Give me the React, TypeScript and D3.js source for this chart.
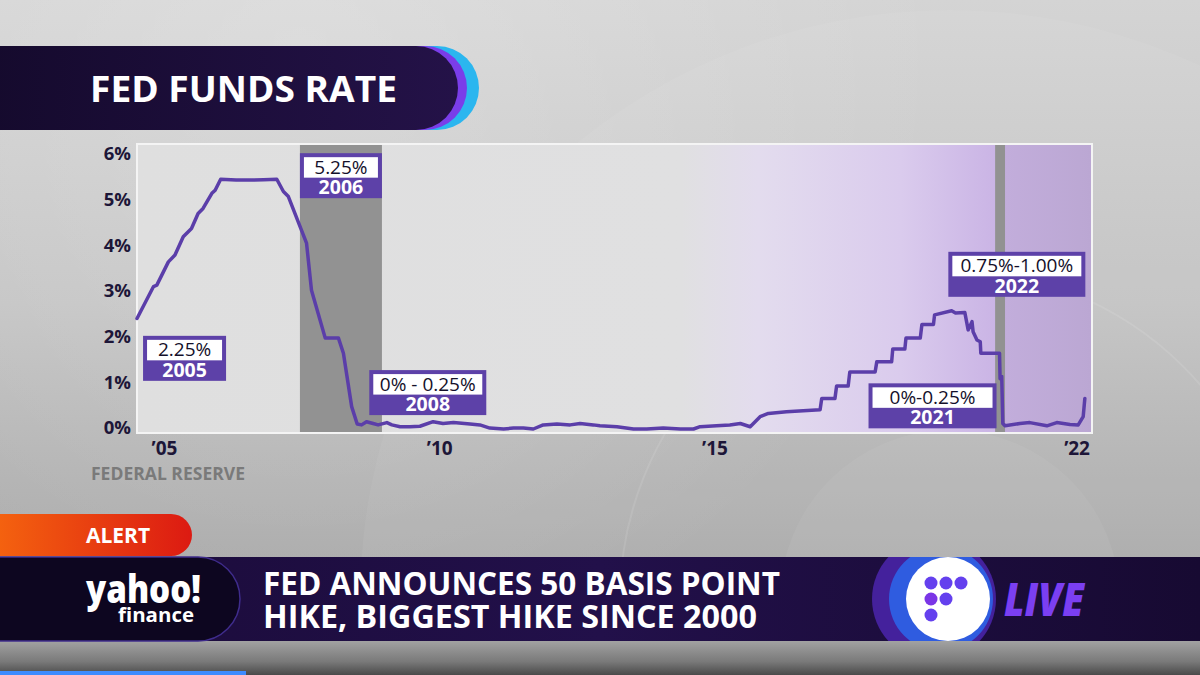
import React from "react";
import * as d3 from "d3";

// ---------------- DATA ----------------
const years = [
  2005.0, 2005.3, 2005.36, 2005.57, 2005.69, 2005.84, 2005.99, 2006.11, 2006.2, 2006.36, 2006.42,
  2006.52, 2006.8, 2007.05, 2007.3, 2007.54, 2007.66, 2007.75, 2008.08, 2008.17, 2008.42, 2008.66,
  2008.75, 2008.9, 2009.0, 2009.08, 2009.17, 2009.29, 2009.38, 2009.54, 2009.63, 2009.78, 2009.96,
  2010.14, 2010.38, 2010.56, 2010.75, 2011.05, 2011.23, 2011.41, 2011.66, 2011.84, 2012.02, 2012.2,
  2012.38, 2012.63, 2012.87, 2013.05, 2013.29, 2013.41, 2013.72, 2014.02, 2014.26, 2014.56, 2014.87,
  2015.11, 2015.23, 2015.53, 2015.77, 2015.96, 2016.14, 2016.32, 2016.47, 2016.8, 2017.41, 2017.44,
  2017.68, 2017.71, 2017.92, 2017.95, 2018.41, 2018.44, 2018.71, 2018.73, 2018.95, 2018.97, 2019.23,
  2019.26, 2019.47, 2019.49, 2019.8, 2019.87, 2020.04, 2020.1, 2020.17, 2020.19, 2020.26, 2020.32,
  2020.33, 2020.67, 2020.68, 2020.71, 2020.73, 2020.77, 2021.04, 2021.22, 2021.53, 2021.71, 2021.95,
  2022.1, 2022.19, 2022.22,
];
const rates = [
  2.42, 3.12, 3.15, 3.66, 3.81, 4.21, 4.39, 4.72, 4.83, 5.16, 5.23,
  5.47, 5.45, 5.45, 5.46, 5.47, 5.2, 5.09, 4.07, 3.04, 1.99, 1.99,
  1.66, 0.49, 0.11, 0.09, 0.16, 0.12, 0.09, 0.14, 0.09, 0.05, 0.05,
  0.06, 0.16, 0.12, 0.14, 0.11, 0.09, 0.02, 0.0, 0.02, 0.02, 0.0,
  0.09, 0.11, 0.09, 0.12, 0.09, 0.07, 0.05, 0.0, 0.0, 0.02, 0.0,
  0.0, 0.05, 0.07, 0.09, 0.12, 0.05, 0.27, 0.34, 0.38, 0.42, 0.67,
  0.67, 0.94, 0.94, 1.25, 1.25, 1.47, 1.47, 1.75, 1.75, 1.99, 1.99,
  2.29, 2.29, 2.5, 2.59, 2.54, 2.55, 2.17, 2.35, 2.13, 1.95, 1.91,
  1.66, 1.66, 1.1, 1.15, 0.12, 0.07, 0.12, 0.14, 0.07, 0.14, 0.1,
  0.09, 0.27, 0.67,
];
const yTickValues = [0, 1, 2, 3, 4, 5, 6];
const xTickYears = [2005, 2010, 2015, 2022];
const xTickLabels = ["\u201905", "\u201910", "\u201915", "\u201922"];
const recessionStarts = [2007.96, 2020.59];
const recessionEnds = [2009.45, 2020.77];
const calloutRates = ["2.25%", "5.25%", "0% - 0.25%", "0%-0.25%", "0.75%-1.00%"];
const calloutYears = ["2005", "2006", "2008", "2021", "2022"];

// ---------------- LAYOUT ----------------
const W = 1200;
const H = 675;
const FONT = "'Open Sans', 'Noto Sans', 'DejaVu Sans', sans-serif";
const PLOT = { x0: 137, x1: 1092, y0: 144, y1: 433 };
// callout anchors (top-left corner, in data units) and widths in px
const CALLOUT_LAYOUT = [
  { year: 2005.11, rate: 2.04, w: 83 },
  { year: 2007.96, rate: 6.04, w: 82 },
  { year: 2009.22, rate: 1.29, w: 117 },
  { year: 2018.29, rate: 1.0, w: 128 },
  { year: 2019.74, rate: 3.88, w: 137 },
];

const x = d3.scaleLinear().domain([2005, 2022.35]).range([PLOT.x0, PLOT.x1]);
const y = d3.scaleLinear().domain([0, 6]).range([429, 155]);

function pillRight(x0: number, x1: number, y0: number, y1: number) {
  const r = (y1 - y0) / 2;
  return `M${x0},${y0} H${x1 - r} A${r},${r} 0 0 1 ${x1 - r},${y1} H${x0} Z`;
}

export default function App() {
  const series = d3.zip(years, rates) as [number, number][];
  const lineGen = d3
    .line<[number, number]>()
    .x((d) => x(d[0]))
    .y((d) => y(d[1]));
  const linePath = lineGen(series) || "";

  const bandAfter = x(recessionEnds[1]);

  return (
    <div style={{ position: "fixed", left: 0, top: 0, width: W, height: H }}>
      <svg width={W} height={H} style={{ display: "block" }} fontFamily={FONT}>
        <defs>
          <linearGradient id="bg" x1="0" y1="0" x2="0" y2="1">
            <stop offset="0" stopColor="#d4d4d4" />
            <stop offset="0.45" stopColor="#c3c3c3" />
            <stop offset="0.85" stopColor="#a9a9a9" />
            <stop offset="1" stopColor="#a0a0a0" />
          </linearGradient>
          <radialGradient id="glow" cx="300" cy="40" r="650" gradientUnits="userSpaceOnUse">
            <stop offset="0" stopColor="#ffffff" stopOpacity="0.22" />
            <stop offset="1" stopColor="#ffffff" stopOpacity="0" />
          </radialGradient>
          <linearGradient id="bottomStrip" x1="0" y1="0" x2="0" y2="1">
            <stop offset="0" stopColor="#a2a2a2" />
            <stop offset="0.6" stopColor="#7a7a7a" />
            <stop offset="1" stopColor="#4a4a4a" />
          </linearGradient>
          <linearGradient id="plotFill" x1={PLOT.x0} x2={PLOT.x1} y1="0" y2="0" gradientUnits="userSpaceOnUse">
            <stop offset="0" stopColor="#dfdfdf" />
            <stop offset="0.57" stopColor="#e0e0e1" />
            <stop offset="0.65" stopColor="#e3dcee" />
            <stop offset="0.8" stopColor="#dacbed" />
            <stop offset="0.9" stopColor="#cab4e5" />
            <stop offset="1" stopColor="#c4aee0" />
          </linearGradient>
          <linearGradient id="plotFill2" x1="0" x2="1" y1="0" y2="0">
            <stop offset="0" stopColor="#c2addb" />
            <stop offset="1" stopColor="#bba7d3" />
          </linearGradient>
          <linearGradient id="titleFill" x1="0" x2="1" y1="0" y2="0">
            <stop offset="0" stopColor="#150a2d" />
            <stop offset="1" stopColor="#241248" />
          </linearGradient>
          <linearGradient id="alertFill" x1="0" x2="1" y1="0" y2="0">
            <stop offset="0" stopColor="#f5650f" />
            <stop offset="1" stopColor="#dc1a12" />
          </linearGradient>
          <linearGradient id="tickerFill" x1="0" x2="1" y1="0" y2="0">
            <stop offset="0" stopColor="#1a0b38" />
            <stop offset="0.5" stopColor="#22104a" />
            <stop offset="1" stopColor="#170a32" />
          </linearGradient>
          <clipPath id="tickerClip">
            <rect x="0" y="557" width={W} height="84" />
          </clipPath>
        </defs>

        {/* screen background */}
        <rect x="0" y="0" width={W} height={H} fill="url(#bg)" />
        <rect x="0" y="0" width={W} height={H} fill="url(#glow)" />
        <circle cx="950" cy="600" r="590" fill="#ffffff" fillOpacity="0.05" />
        <circle cx="950" cy="600" r="330" fill="none" stroke="#ffffff" strokeOpacity="0.1" strokeWidth="2" />
        <circle cx="950" cy="600" r="170" fill="#ffffff" fillOpacity="0.05" />

        {/* title bar */}
        <path d={pillRight(-10, 479, 46, 130)} fill="#2bb6ef" />
        <path d={pillRight(-10, 467, 46, 130)} fill="#7a3de9" />
        <path d={pillRight(-10, 458, 46, 130)} fill="url(#titleFill)" />
        <text x="90" y="102" fill="#ffffff" fontSize="35" fontWeight="700" textLength="307" lengthAdjust="spacingAndGlyphs">
          FED FUNDS RATE
        </text>

        {/* plot panel */}
        <rect x={PLOT.x0} y={PLOT.y0} width={PLOT.x1 - PLOT.x0} height={PLOT.y1 - PLOT.y0} fill="url(#plotFill)" />
        <rect x={bandAfter} y={PLOT.y0} width={PLOT.x1 - bandAfter} height={PLOT.y1 - PLOT.y0} fill="url(#plotFill2)" />
        {recessionStarts.map((s, i) => (
          <rect
            key={"rec" + i}
            x={x(s)}
            y={PLOT.y0}
            width={x(recessionEnds[i]) - x(s)}
            height={PLOT.y1 - PLOT.y0}
            fill="#929292"
          />
        ))}
        <rect
          x={PLOT.x0}
          y={PLOT.y0}
          width={PLOT.x1 - PLOT.x0}
          height={PLOT.y1 - PLOT.y0}
          fill="none"
          stroke="#f4f4f4"
          strokeWidth="2"
        />

        {/* line */}
        <path d={linePath} fill="none" stroke="#5b3ea9" strokeWidth="3.5" strokeLinejoin="round" strokeLinecap="round" />

        {/* callouts */}
        {CALLOUT_LAYOUT.map((c, i) => {
          const bx = x(c.year);
          const by = y(c.rate);
          return (
            <g key={"co" + i}>
              <rect x={bx} y={by} width={c.w} height={45} fill="#5d41a8" />
              <rect x={bx + 4} y={by + 4} width={c.w - 8} height={20.5} fill="#ffffff" />
              <text x={bx + c.w / 2} y={by + 20.5} textAnchor="middle" fontSize="19" fontWeight="500" fill="#14102a">
                {calloutRates[i]}
              </text>
              <text x={bx + c.w / 2} y={by + 41} textAnchor="middle" fontSize="19.5" fontWeight="700" fill="#ffffff">
                {calloutYears[i]}
              </text>
            </g>
          );
        })}

        {/* y axis labels */}
        {yTickValues.map((v) => (
          <text
            key={"yt" + v}
            x={131}
            y={y(v) - 1}
            dy="0.35em"
            textAnchor="end"
            fontSize="18.5"
            fontWeight="700"
            fill="#1d1638"
          >
            {v + "%"}
          </text>
        ))}

        {/* x axis labels */}
        {xTickYears.map((yr, i) => {
          const cx = x(yr + 0.5);
          let anchor: "start" | "middle" | "end" = "middle";
          let px = cx;
          if (cx - 14 < PLOT.x0) {
            anchor = "start";
            px = PLOT.x0 - 2;
          } else if (cx + 14 > PLOT.x1) {
            anchor = "end";
            px = PLOT.x1 - 2;
          }
          return (
            <text key={"xt" + yr} x={px} y={455} textAnchor={anchor} fontSize="19" fontWeight="700" fill="#1d1638">
              {xTickLabels[i]}
            </text>
          );
        })}

        <text x="91" y="480" fontSize="18" fontWeight="700" fill="#7a7a7a" textLength="154" lengthAdjust="spacingAndGlyphs">
          FEDERAL RESERVE
        </text>

        {/* ALERT pill */}
        <path d={pillRight(-10, 192, 514, 556)} fill="url(#alertFill)" />
        <text x="118" y="543" textAnchor="middle" fontSize="21" fontWeight="700" fill="#ffffff">
          ALERT
        </text>

        {/* ticker */}
        <rect x="0" y="557" width={W} height="84" fill="url(#tickerFill)" />
        <rect x="0" y="641" width={W} height="34" fill="url(#bottomStrip)" />
        <rect x="0" y="671" width="246" height="4" fill="#3d8bff" />
        <path d={pillRight(-10, 240, 557, 641)} fill="#0d0620" stroke="#3f2c8c" strokeWidth="1.5" />
        <text x="201" y="603" textAnchor="end" fontSize="38" fontWeight="800" fill="#ffffff" textLength="115" lengthAdjust="spacingAndGlyphs">
          yahoo!
        </text>
        <text x="194" y="622" textAnchor="end" fontSize="19" fontWeight="700" fill="#ffffff" textLength="76" lengthAdjust="spacingAndGlyphs">
          finance
        </text>
        <text x="263" y="595" fontSize="32" fontWeight="700" fill="#ffffff" textLength="517" lengthAdjust="spacingAndGlyphs">
          FED ANNOUNCES 50 BASIS POINT
        </text>
        <text x="263" y="628" fontSize="32" fontWeight="700" fill="#ffffff" textLength="494" lengthAdjust="spacingAndGlyphs">
          HIKE, BIGGEST HIKE SINCE 2000
        </text>

        {/* live logo */}
        <g clipPath="url(#tickerClip)">
          <circle cx="934" cy="599" r="62" fill="#44219c" />
          <circle cx="941" cy="599" r="52" fill="#2f5ce0" />
        </g>
        <circle cx="948" cy="599" r="42" fill="#ffffff" />
        {[
          [-15, -16],
          [0, -16],
          [15, -16],
          [-15, 0],
          [0, 0],
          [-15, 16],
        ].map((p, i) => (
          <circle key={"dot" + i} cx={948 + p[0] - 2} cy={599 + p[1]} r="6.5" fill={i === 3 ? "#7a35e6" : "#6440ee"} />
        ))}
        <text x="1004" y="616" fontSize="46" fontWeight="800" fontStyle="italic" fill="#7b3ff2" textLength="80" lengthAdjust="spacingAndGlyphs">
          LIVE
        </text>
      </svg>
    </div>
  );
}
